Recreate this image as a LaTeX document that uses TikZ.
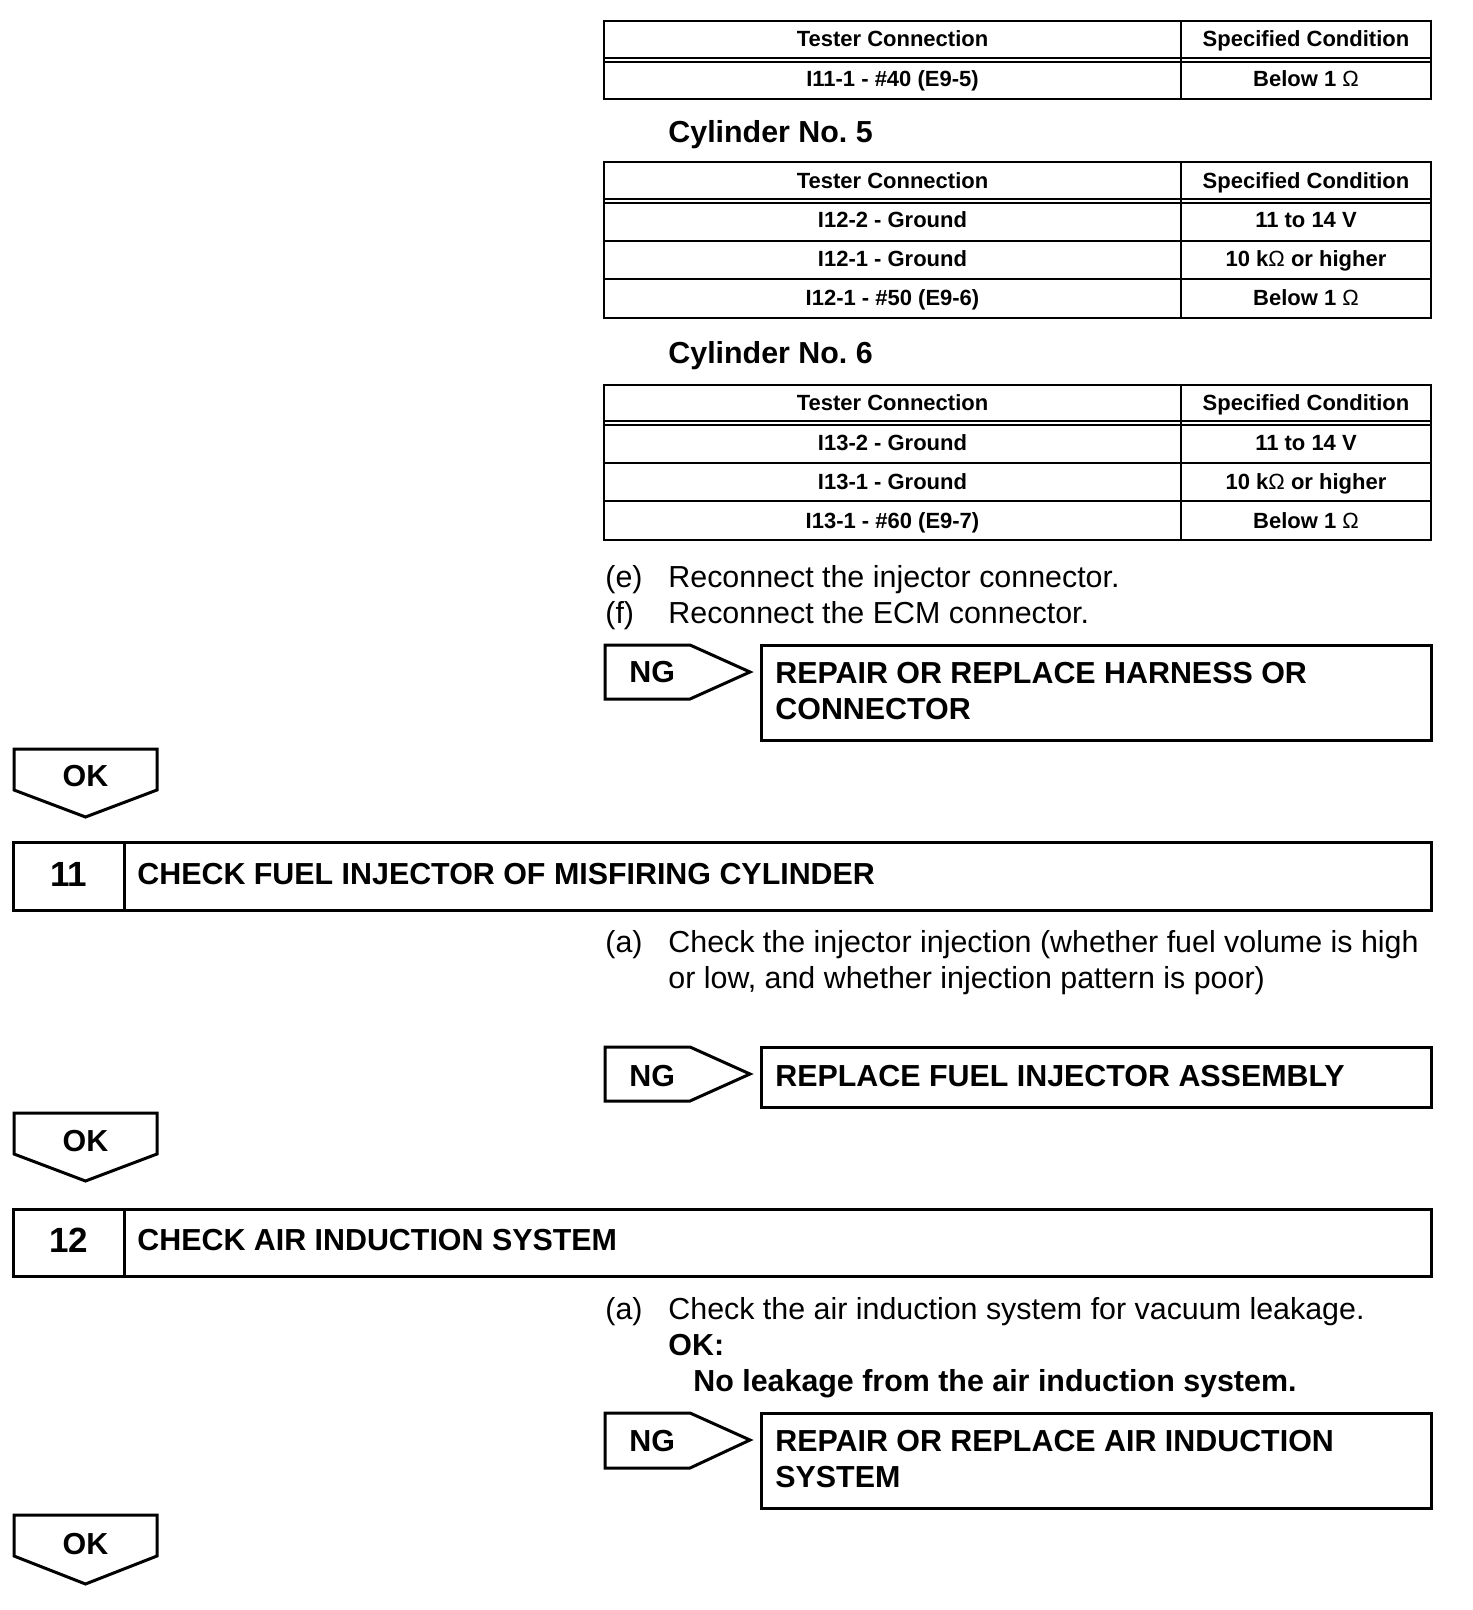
\documentclass[tikz,border=0pt]{standalone}
\usepackage{fontspec}
\setmainfont{Liberation Sans}
\usetikzlibrary{positioning}

\begin{document}
\begin{tikzpicture}[x=0.5pt,y=-0.5pt,
  tabline/.style={line width=1pt},
  thinline/.style={line width=0.6pt},
  boxline/.style={line width=1.5pt,line join=miter},
  tabtxt/.style={font=\fontsize{11}{13}\selectfont\bfseries,anchor=base,inner sep=0pt},
  bodytxt/.style={font=\fontsize{15.2}{17.5}\selectfont,anchor=base west,inner sep=0pt},
  boldtxt/.style={font=\fontsize{15.2}{17.5}\selectfont\bfseries,anchor=base west,inner sep=0pt},
  numtxt/.style={font=\fontsize{17.5}{20}\selectfont\bfseries,anchor=base,inner sep=0pt}]
  \useasboundingbox (0,0) rectangle (1472,1610);

  %% Table: end of cylinder No. 4
  \draw[tabline] (604,21) rectangle (1431,99.5);
  \draw[tabline] (604,58) -- (1431,58);
  \draw[thinline] (604,62) -- (1431,62);
  \draw[tabline] (1181,21) -- (1181,99.5);
  \node[tabtxt] (ta-h1) at (892.5,47) {Tester Connection};
  \node[tabtxt] (ta-h2) at (1306,47) {Specified Condition};
  \node[tabtxt] (ta-r1) at (892.5,87) {I11-1 - \#40 (E9-5)};
  \node[tabtxt] (ta-c1) at (1306,87) {Below 1 {\mdseries Ω}};

  %% Cylinder No. 5
  \node[boldtxt] (cyl5) at (668,143) {Cylinder No.\ 5};
  \draw[tabline] (604,162) rectangle (1431,318);
  \draw[tabline] (604,199) -- (1431,199);
  \draw[thinline] (604,203) -- (1431,203);
  \foreach \y in {241,279.5} \draw[tabline] (604,\y) -- (1431,\y);
  \draw[tabline] (1181,162) -- (1181,318);
  \node[tabtxt] (tb-h1) at (892.5,188.5) {Tester Connection};
  \node[tabtxt] (tb-h2) at (1306,188.5) {Specified Condition};
  \node[tabtxt] (tb-r1) at (892.5,228) {I12-2 - Ground};
  \node[tabtxt] (tb-c1) at (1306,228) {11 to 14 V};
  \node[tabtxt] (tb-r2) at (892.5,267) {I12-1 - Ground};
  \node[tabtxt] (tb-c2) at (1306,267) {10 k{\mdseries Ω} or higher};
  \node[tabtxt] (tb-r3) at (892.5,306) {I12-1 - \#50 (E9-6)};
  \node[tabtxt] (tb-c3) at (1306,306) {Below 1 {\mdseries Ω}};

  %% Cylinder No. 6
  \node[boldtxt] (cyl6) at (668,364) {Cylinder No.\ 6};
  \draw[tabline] (604,385) rectangle (1431,540);
  \draw[tabline] (604,421) -- (1431,421);
  \draw[thinline] (604,425) -- (1431,425);
  \foreach \y in {462.5,501} \draw[tabline] (604,\y) -- (1431,\y);
  \draw[tabline] (1181,385) -- (1181,540);
  \node[tabtxt] (tc-h1) at (892.5,410) {Tester Connection};
  \node[tabtxt] (tc-h2) at (1306,410) {Specified Condition};
  \node[tabtxt] (tc-r1) at (892.5,450) {I13-2 - Ground};
  \node[tabtxt] (tc-c1) at (1306,450) {11 to 14 V};
  \node[tabtxt] (tc-r2) at (892.5,489) {I13-1 - Ground};
  \node[tabtxt] (tc-c2) at (1306,489) {10 k{\mdseries Ω} or higher};
  \node[tabtxt] (tc-r3) at (892.5,528) {I13-1 - \#60 (E9-7)};
  \node[tabtxt] (tc-c3) at (1306,528) {Below 1 {\mdseries Ω}};

  %% steps (e) and (f)
  \node[bodytxt] (e-lbl) at (605,587) {(e)};
  \node[bodytxt] (e-txt) at (668,587) {Reconnect the injector connector.};
  \node[bodytxt] (f-lbl) at (605,623) {(f)};
  \node[bodytxt] (f-txt) at (668,623) {Reconnect the ECM connector.};

  %% NG: harness or connector
  \draw[boxline] (605,645) -- (690,645) -- (750,672) -- (690,699) -- (605,699) -- cycle;
  \node[boldtxt] (ng1) at (629,682) {NG};
  \draw[boxline] (761,645) rectangle (1431,740);
  \node[boldtxt] (rep1a) at (775,683) {REPAIR OR REPLACE HARNESS OR};
  \node[boldtxt] (rep1b) at (775,719) {CONNECTOR};

  %% OK
  \draw[boxline] (14,749) -- (157,749) -- (157,790) -- (85.5,817) -- (14,790) -- cycle;
  \node[boldtxt,anchor=base] (ok1) at (85.5,786) {OK};

  %% Step 11
  \draw[boxline] (13,842) rectangle (1431,910);
  \draw[boxline] (124,842) -- (124,910);
  \node[numtxt] (no11) at (68.5,886) {11};
  \node[boldtxt] (step11) at (137,884.5) {CHECK FUEL INJECTOR OF MISFIRING CYLINDER};
  \node[bodytxt] (a11-lbl) at (605,952) {(a)};
  \node[bodytxt] (a11-txt) at (668,952) {Check the injector injection (whether fuel volume is high};
  \node[bodytxt] (a11-txt2) at (668,988) {or low, and whether injection pattern is poor)};

  %% NG: fuel injector
  \draw[boxline] (605,1047) -- (690,1047) -- (750,1074) -- (690,1101) -- (605,1101) -- cycle;
  \node[boldtxt] (ng2) at (629,1086) {NG};
  \draw[boxline] (761,1047) rectangle (1431,1107);
  \node[boldtxt] (rep2) at (775,1086) {REPLACE FUEL INJECTOR ASSEMBLY};

  %% OK
  \draw[boxline] (14,1113) -- (157,1113) -- (157,1154) -- (85.5,1181) -- (14,1154) -- cycle;
  \node[boldtxt,anchor=base] (ok2) at (85.5,1151) {OK};

  %% Step 12
  \draw[boxline] (13,1209) rectangle (1431,1276);
  \draw[boxline] (124,1209) -- (124,1276);
  \node[numtxt] (no12) at (68.5,1252) {12};
  \node[boldtxt] (step12) at (137,1250) {CHECK AIR INDUCTION SYSTEM};
  \node[bodytxt] (a12-lbl) at (605,1319) {(a)};
  \node[bodytxt] (a12-txt) at (668,1319) {Check the air induction system for vacuum leakage.};
  \node[boldtxt] (ok-spec) at (668,1355) {OK:};
  \node[boldtxt] (ok-cond) at (693,1391) {No leakage from the air induction system.};

  %% NG: air induction
  \draw[boxline] (605,1413) -- (690,1413) -- (750,1440) -- (690,1468) -- (605,1468) -- cycle;
  \node[boldtxt] (ng3) at (629,1451) {NG};
  \draw[boxline] (761,1413) rectangle (1431,1508);
  \node[boldtxt] (rep3a) at (775,1451) {REPAIR OR REPLACE AIR INDUCTION};
  \node[boldtxt] (rep3b) at (775,1487) {SYSTEM};

  %% OK
  \draw[boxline] (14,1515) -- (157,1515) -- (157,1556) -- (85.5,1584) -- (14,1556) -- cycle;
  \node[boldtxt,anchor=base] (ok3) at (85.5,1554) {OK};
\end{tikzpicture}
\end{document}
